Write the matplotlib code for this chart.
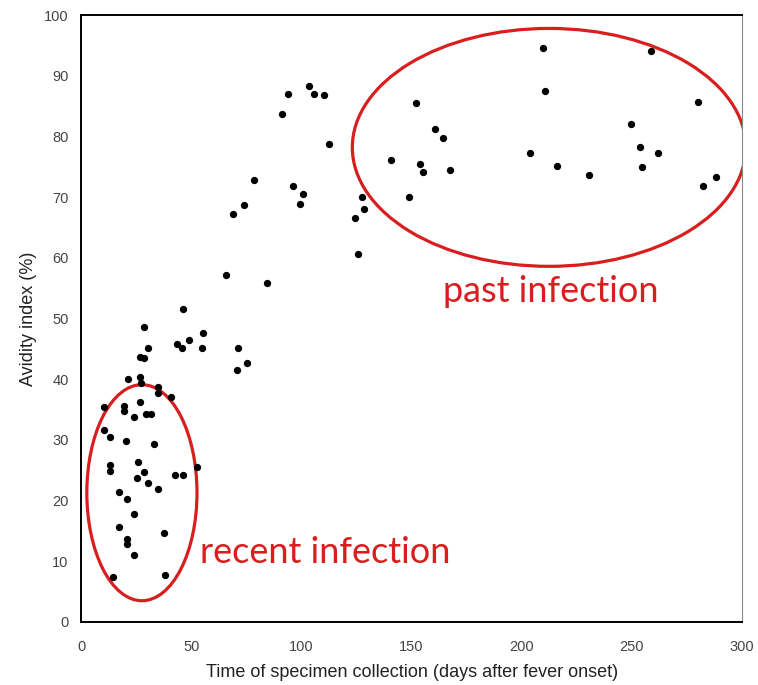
import numpy as np
import matplotlib.pyplot as plt
from matplotlib.patches import Ellipse

# days after fever onset / avidity index (%)
days = [10.5, 10.5, 13.3, 13.3, 13.3, 14.4, 19.5, 19.5, 21.2, 20.5, 24.1,
        17.3, 21.0, 24.1, 17.3, 21.0, 21.0, 24.1, 26.7, 26.8, 27.1, 26.8,
        28.6, 28.6, 30.3, 29.5, 31.7, 25.6, 25.3, 28.6, 30.3, 33.2, 34.7,
        34.7, 34.7, 37.4, 38.2, 40.6, 42.4, 46.2, 52.6, 46.2, 43.5, 45.8,
        49.1, 55.3, 54.9, 71.4, 70.6, 75.5,
        65.6, 84.4, 68.8, 73.8, 78.6, 91.4, 93.8, 96.2, 100.6, 99.2, 103.5,
        105.5, 110.2, 112.6, 124.4, 125.6, 127.4, 128.5,
        140.8, 148.8, 151.8, 153.6, 155.3, 160.5, 164.4, 167.6, 203.8,
        209.7, 210.5, 215.8, 230.6, 249.4, 253.8, 254.8, 258.6, 261.7,
        279.9, 282.4, 288.0]
avidity = [35.4, 31.6, 30.5, 25.8, 24.9, 7.4, 35.6, 34.8, 40.1, 29.8, 33.7,
           21.4, 20.3, 17.8, 15.7, 13.6, 12.8, 11.1, 40.4, 36.3, 39.3, 43.7,
           43.5, 48.6, 45.1, 34.3, 34.3, 26.4, 23.8, 24.7, 22.9, 29.3, 38.7,
           37.8, 21.9, 14.7, 7.7, 37.0, 24.3, 24.3, 25.6, 51.5, 45.8, 45.1,
           46.5, 47.6, 45.1, 45.1, 41.6, 42.6,
           57.2, 55.9, 67.2, 68.7, 72.8, 83.7, 87.0, 71.9, 70.5, 68.9, 88.3,
           87.0, 86.8, 78.8, 66.5, 60.7, 70.0, 68.0,
           76.1, 70.1, 85.5, 75.5, 74.1, 81.3, 79.7, 74.5, 77.2,
           94.6, 87.5, 75.2, 73.6, 82.1, 78.3, 75.0, 94.1, 77.2,
           85.7, 71.8, 73.4]

plt.rcParams['font.family'] = ['Liberation Sans', 'DejaVu Sans']

fig = plt.figure(figsize=(7.58, 6.85), dpi=100)
ax = fig.add_axes([0.107, 0.092, 0.872, 0.886])

ax.scatter(days, avidity, s=18, color='black', zorder=3)

ax.set_xlim(0, 300)
ax.set_ylim(0, 100)
ax.set_xticks(np.arange(0, 301, 50))
ax.set_yticks(np.arange(0, 101, 10))
ax.tick_params(length=0, labelsize=10.5, colors='#444444')
ax.tick_params(axis='x', pad=13)
ax.tick_params(axis='y', pad=9)
for side in ['left', 'bottom', 'top']:
    ax.spines[side].set_linewidth(1.4)
ax.spines['right'].set_color('#888888')

ax.set_xlabel('Time of specimen collection (days after fever onset)', fontsize=13,
              color='#222222', labelpad=7)
ax.set_ylabel('Avidity index (%)', fontsize=13, color='#222222', labelpad=5)

red = '#d81e1e'
ax.add_patch(Ellipse((27.6, 21.3), 50, 35.6, fill=False, edgecolor=red, lw=2.3))
ax.add_patch(Ellipse((212.4, 78.2), 178.6, 39.2, fill=False, edgecolor=red, lw=2.3))
ax.text(213, 54.4, 'past infection', color=red, fontsize=26, family=['Lato', 'DejaVu Sans'],
        ha='center', va='center')
ax.text(111, 11.4, 'recent infection', color=red, fontsize=26, family=['Lato', 'DejaVu Sans'],
        ha='center', va='center')

fig.savefig('out.png', dpi=100)
